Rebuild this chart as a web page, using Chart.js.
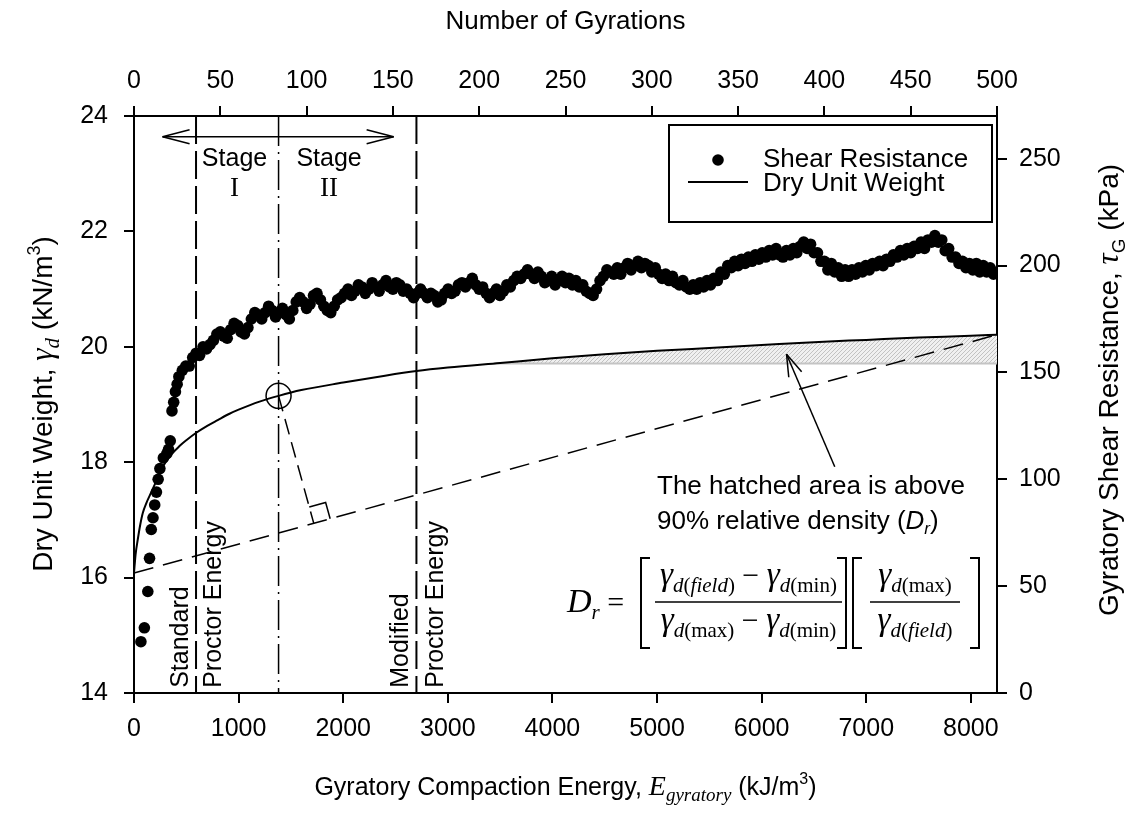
<!DOCTYPE html>
<html><head><meta charset="utf-8">
<script src="https://cdn.jsdelivr.net/npm/chart.js@4.4.0/dist/chart.umd.min.js"></script>
<style>html,body{margin:0;padding:0;background:#fff;}#wrap{width:1135px;height:816px;}</style>
</head><body><div id="wrap"><canvas id="c" width="1135" height="816"></canvas></div>
<script>
// ---------------- DATA ----------------
// Dry unit weight curve (bottom axis: compaction energy, kJ/m3; left axis: kN/m3)
const energyKJ = [0, 15, 36, 60, 84, 120, 150, 200, 275, 350, 435, 500, 595, 700, 800, 913, 1000, 1200, 1382, 1600, 2000, 2400, 2700, 3000, 3500, 4000, 4500, 5000, 5500, 6000, 6500, 7000, 7500, 8000, 8250];
const dryUnitWeight = [16.08, 16.4, 16.66, 16.92, 17.12, 17.3, 17.42, 17.62, 17.92, 18.12, 18.28, 18.38, 18.51, 18.63, 18.73, 18.84, 18.91, 19.05, 19.15, 19.25, 19.38, 19.5, 19.58, 19.64, 19.72, 19.8, 19.87, 19.93, 19.98, 20.03, 20.08, 20.12, 20.16, 20.19, 20.21];

// Shear resistance (top axis: number of gyrations; right axis: kPa)
const gyrations = [4, 6, 8, 9, 10, 11, 12, 13, 14, 15, 17, 19, 20, 21, 22, 23, 24, 25,
  26, 28, 30, 32, 34, 36, 38, 40, 42, 44, 46, 48, 50, 52, 54, 56, 58, 60, 62, 64,
  66, 68, 70, 72, 74, 76, 78, 80, 82, 84, 86, 88, 90, 92, 94, 96, 98, 100, 102, 104,
  106, 108, 110, 112, 114, 116, 118, 120, 122, 124, 126, 128, 130, 132, 134, 136, 138, 140, 142, 144,
  146, 148, 150, 152, 154, 156, 158, 160, 162, 164, 166, 168, 170, 172, 174, 176, 178, 180, 182, 184,
  186, 188, 190, 192, 194, 196, 198, 200, 202, 204, 206, 208, 210, 212, 214, 216, 218, 220, 222, 224,
  226, 228, 230, 232, 234, 236, 238, 240, 242, 244, 246, 248, 250, 252, 254, 256, 258, 260, 262, 264,
  266, 268, 270, 272, 274, 276, 278, 280, 282, 284, 286, 288, 290, 292, 294, 296, 298, 300, 302, 304,
  306, 308, 310, 312, 314, 316, 318, 320, 322, 324, 326, 328, 330, 332, 334, 336, 338, 340, 342, 344,
  346, 348, 350, 352, 354, 356, 358, 360, 362, 364, 366, 368, 370, 372, 374, 376, 378, 380, 382, 384,
  386, 388, 390, 392, 394, 396, 398, 400, 402, 404, 406, 408, 410, 412, 414, 416, 418, 420, 422, 424,
  426, 428, 430, 432, 434, 436, 438, 440, 442, 444, 446, 448, 450, 452, 454, 456, 458, 460, 462, 464,
  466, 468, 470, 472, 474, 476, 478, 480, 482, 484, 486, 488, 490, 492, 494, 496, 498, 500];
const shearKPa = [24, 30.5, 47.5, 63, 76.5, 82, 88, 94, 100, 105, 110, 112, 114, 118, 132, 136, 141, 144.5,
  148, 151, 153, 153, 157, 159, 158, 162, 161, 163, 165, 168, 169, 167, 166, 170, 173, 172, 169, 168,
  171, 175, 178, 177, 175, 178, 181, 179, 176, 178, 180, 177, 175, 179, 183, 185, 183, 180, 182, 186,
  187, 184, 181, 179, 178, 181, 184, 185, 187, 189, 186, 188, 191, 190, 187, 189, 192, 190, 188, 191,
  193, 190, 189, 192, 191, 188, 189, 187, 185, 187, 189, 187, 185, 187, 186, 183, 184, 187, 189, 187,
  188, 191, 192, 190, 192, 194, 191, 189, 190, 187, 185, 187, 189, 186, 188, 191, 190, 193, 195, 194,
  196, 198, 196, 194, 197, 195, 192, 193, 195, 191, 193, 195, 192, 194, 191, 193, 190, 191, 188, 187,
  186, 189, 193, 195, 198, 197, 196, 199, 196, 199, 201, 198, 200, 202, 199, 201, 200, 197, 199, 196,
  194, 196, 193, 195, 192, 191, 193, 190, 189, 191, 189, 192, 190, 193, 191, 194, 193, 197, 196, 200,
  199, 202, 200, 203, 201, 204, 202, 205, 203, 206, 204, 207, 205, 208, 205, 204, 207, 205, 208, 206,
  209, 211, 208, 210, 206, 206, 202, 202, 198, 201, 197, 199, 195, 198, 195, 198, 196, 199, 197, 200,
  198, 201, 200, 202, 200, 203, 202, 205, 204, 207, 205, 208, 206, 209, 208, 211, 208, 212, 211, 214,
  211, 212, 207, 208, 204, 204, 201, 202, 199, 201, 198, 201, 197, 200, 197, 199, 196, 197];

// 90% relative density limit (gray line) and its start
const limitEnergy = [3440, 8250];
const limitWeight = [19.71, 19.71];

// Axis ranges and tick labels
const energyRange = [0, 8250];
const energyTickValues = [0, 1000, 2000, 3000, 4000, 5000, 6000, 7000, 8000];
const gyrationRange = [0, 500];
const gyrationTickValues = [0, 50, 100, 150, 200, 250, 300, 350, 400, 450, 500];
const weightRange = [14, 24];
const weightTickValues = [14, 16, 18, 20, 22, 24];
const shearRange = [0, 270];
const shearTickValues = [0, 50, 100, 150, 200, 250];

// Annotation anchors (data units: energy, dry unit weight)
const ann = {
  standardE: 593, modifiedE: 2700, transitionE: 1382, circleW: 19.15,
  arrowFrom: [273, 23.64], arrowTo: [2482, 23.64],
  stage1: [961, 23.25, 22.74], stage2: [1865, 23.25, 22.74],
  standardText: [451, 14.09], proctor1Text: [770, 14.09], modifiedText: [2556, 14.09], proctor2Text: [2890, 14.09],
  noteText: [5000, 17.58, 17.0], noteArrowTail: [6699, 17.92], noteArrowTip: [6238, 19.87]
};

// ---------------- DRAWING ----------------
const SANS = '"Liberation Sans", Arial, sans-serif';
const SERIF = '"Liberation Serif", "Times New Roman", serif';
const canvas = document.getElementById('c');
const c2d = canvas.getContext('2d');

function makeHatch(){
  const p = document.createElement('canvas'); p.width = 4; p.height = 4;
  const g = p.getContext('2d');
  g.fillStyle = '#f0f0f0'; g.fillRect(0,0,4,4);
  g.fillStyle = '#c2c2c2';
  g.fillRect(0,3,1,1); g.fillRect(1,2,1,1); g.fillRect(2,1,1,1); g.fillRect(3,0,1,1);
  return c2d.createPattern(p, 'repeat');
}
const hatch = makeHatch();

function runsWidth(ctx, runs){ let w = 0; for (const r of runs){ ctx.font = r.f; w += ctx.measureText(r.t).width; } return w; }
function drawRuns(ctx, runs, x, y){ for (const r of runs){ ctx.font = r.f; ctx.fillText(r.t, x, y + (r.dy||0)); x += ctx.measureText(r.t).width; } return x; }
function seg(ctx, x1, y1, x2, y2){ ctx.beginPath(); ctx.moveTo(x1,y1); ctx.lineTo(x2,y2); ctx.stroke(); }
function openHead(ctx, tx, ty, fx, fy, len, half){
  const dx = fx - tx, dy = fy - ty, L = Math.hypot(dx, dy), ux = dx/L, uy = dy/L;
  const bx = tx + ux*len, by = ty + uy*len;
  seg(ctx, tx, ty, bx - uy*half, by + ux*half);
  seg(ctx, tx, ty, bx + uy*half, by - ux*half);
}

const overlay = {
  id: 'overlay',
  beforeDatasetsDraw(chart){
    const {ctx, chartArea: a, scales: {x, y}} = chart;
    ctx.save();
    const lx = x.getPixelForValue(limitEnergy[0]), ly = y.getPixelForValue(limitWeight[0]);
    const line = chart.getDatasetMeta(1).dataset;
    ctx.save();
    ctx.beginPath(); ctx.rect(lx, a.top, a.right - lx, ly - a.top); ctx.clip();
    ctx.beginPath(); line.path(ctx);
    ctx.lineTo(a.right, ly); ctx.lineTo(a.left, ly); ctx.closePath();
    ctx.fillStyle = hatch; ctx.fill();
    ctx.restore();
    ctx.strokeStyle = '#000';
    ctx.lineWidth = 2; ctx.setLineDash([28, 7]);
    for (const e of [ann.standardE, ann.modifiedE]){ const px = x.getPixelForValue(e); seg(ctx, px, a.top, px, a.bottom); }
    ctx.lineWidth = 1.5; ctx.setLineDash([30, 6, 2, 6]);
    const tx = x.getPixelForValue(ann.transitionE); seg(ctx, tx, a.top, tx, a.bottom);
    ctx.restore();
  },
  afterDatasetsDraw(chart){
    const {ctx, scales: {x, y}} = chart;
    ctx.save();
    ctx.strokeStyle = '#000'; ctx.lineWidth = 1.5;
    const n = energyKJ.length - 1;
    const ax = x.getPixelForValue(energyKJ[0]), ay = y.getPixelForValue(dryUnitWeight[0]);
    const bx = x.getPixelForValue(energyKJ[n]), by = y.getPixelForValue(dryUnitWeight[n]);
    ctx.setLineDash([20, 10]); seg(ctx, ax, ay, bx, by);
    const px = x.getPixelForValue(ann.transitionE), py = y.getPixelForValue(ann.circleW);
    const L = Math.hypot(bx-ax, by-ay), ux = (bx-ax)/L, uy = (by-ay)/L;
    const t = (px-ax)*ux + (py-ay)*uy, fx = ax + ux*t, fy = ay + uy*t;
    ctx.setLineDash([16, 8]); seg(ctx, px, py, fx, fy);
    ctx.setLineDash([]);
    const vL = Math.hypot(px-fx, py-fy), vx = (px-fx)/vL, vy = (py-fy)/vL, s = 17;
    ctx.beginPath(); ctx.moveTo(fx + vx*s, fy + vy*s); ctx.lineTo(fx + vx*s + ux*s, fy + vy*s + uy*s); ctx.lineTo(fx + ux*s, fy + uy*s); ctx.stroke();
    ctx.beginPath(); ctx.arc(px, py, 12.5, 0, Math.PI*2); ctx.stroke();
    ctx.restore();
  },
  afterDraw(chart){
    const {ctx, chartArea: a, scales: {x, y}} = chart;
    const X = v => x.getPixelForValue(v), Y = v => y.getPixelForValue(v);
    ctx.save();
    ctx.fillStyle = '#000'; ctx.strokeStyle = '#000';
    ctx.lineWidth = 1.5;
    const x1 = X(ann.arrowFrom[0]), x2 = X(ann.arrowTo[0]), ya = Y(ann.arrowFrom[1]);
    seg(ctx, x1, ya, x2, ya);
    openHead(ctx, x1, ya, x2, ya, 27, 7); openHead(ctx, x2, ya, x1, ya, 27, 7);
    ctx.textAlign = 'center'; ctx.textBaseline = 'middle';
    ctx.font = `25px ${SANS}`;
    ctx.fillText('Stage', X(ann.stage1[0]), Y(ann.stage1[1]));
    ctx.fillText('Stage', X(ann.stage2[0]), Y(ann.stage2[1]));
    ctx.font = `27px ${SERIF}`;
    ctx.fillText('I', X(ann.stage1[0]), Y(ann.stage1[2]));
    ctx.fillText('II', X(ann.stage2[0]), Y(ann.stage2[2]));
    ctx.font = `25px ${SANS}`; ctx.textAlign = 'left';
    for (const [txt, p] of [['Standard', ann.standardText], ['Proctor Energy', ann.proctor1Text], ['Modified', ann.modifiedText], ['Proctor Energy', ann.proctor2Text]]){
      ctx.save(); ctx.translate(X(p[0]), Y(p[1])); ctx.rotate(-Math.PI/2); ctx.fillText(txt, 0, 0); ctx.restore();
    }
    ctx.textAlign = 'left'; ctx.textBaseline = 'middle';
    ctx.font = `26px ${SANS}`;
    ctx.fillText('The hatched area is above', X(ann.noteText[0]), Y(ann.noteText[1]));
    ctx.textBaseline = 'alphabetic';
    const nb = Y(ann.noteText[2]) + 9;
    let cx = drawRuns(ctx, [{t:'90% relative density (', f:`26px ${SANS}`}, {t:'D', f:`italic 26px ${SANS}`}], X(ann.noteText[0]), nb);
    cx = drawRuns(ctx, [{t:'r', f:`italic 17px ${SANS}`, dy:5}], cx, nb);
    ctx.font = `26px ${SANS}`; ctx.fillText(')', cx, nb);
    ctx.lineWidth = 1.5;
    const ax1 = X(ann.noteArrowTail[0]), ay1 = Y(ann.noteArrowTail[1]), ax2 = X(ann.noteArrowTip[0]), ay2 = Y(ann.noteArrowTip[1]);
    seg(ctx, ax1, ay1, ax2, ay2); openHead(ctx, ax2, ay2, ax1, ay1, 22, 7);

    const G = `italic 33px ${SERIF}`, SI = `italic 21px ${SERIF}`, SU = `21px ${SERIF}`, OP = `30px ${SERIF}`;
    const gam = (sub) => [{t:'γ', f:G}, {t:'d', f:SI, dy:7}].concat(sub);
    const fieldSub = [{t:'(', f:SU, dy:7}, {t:'field', f:SI, dy:7}, {t:')', f:SU, dy:7}];
    const minSub = [{t:'(min)', f:SU, dy:7}];
    const maxSub = [{t:'(max)', f:SU, dy:7}];
    const minus = [{t:' − ', f:OP}];
    const numBase = 585, denBase = 630, fracY = 602;
    drawRuns(ctx, [{t:'D', f:`italic 34px ${SERIF}`}, {t:'r', f:`italic 21px ${SERIF}`, dy:7}, {t:' =', f:OP}], 567, 612);
    const frac = (l, r, num, den) => {
      ctx.lineWidth = 1.5; seg(ctx, l, fracY, r, fracY);
      drawRuns(ctx, num, (l+r)/2 - runsWidth(ctx, num)/2, numBase);
      drawRuns(ctx, den, (l+r)/2 - runsWidth(ctx, den)/2, denBase);
    };
    frac(655, 842, gam(fieldSub).concat(minus, gam(minSub)), gam(maxSub).concat(minus, gam(minSub)));
    frac(870, 960, gam(maxSub), gam(fieldSub));
    const bracket = (xx, dir) => { ctx.lineWidth = 2; ctx.beginPath(); ctx.moveTo(xx + dir*9, 558); ctx.lineTo(xx, 558); ctx.lineTo(xx, 648); ctx.lineTo(xx + dir*9, 648); ctx.stroke(); };
    bracket(641, 1); bracket(846, -1); bracket(853, 1); bracket(979, -1);

    ctx.lineWidth = 2; ctx.strokeRect(669, 125, 323, 97);
    ctx.beginPath(); ctx.arc(718, 160, 5.8, 0, Math.PI*2); ctx.fill();
    seg(ctx, 688, 182, 748, 182);
    ctx.font = `26px ${SANS}`; ctx.textAlign = 'left'; ctx.textBaseline = 'middle';
    ctx.fillText(chart.data.datasets[0].label, 763, 160);
    ctx.fillText(chart.data.datasets[1].label, 763, 184);

    ctx.textBaseline = 'alphabetic';
    ctx.font = `26px ${SANS}`; ctx.textAlign = 'center';
    ctx.fillText('Number of Gyrations', (a.left + a.right)/2, 29);
    ctx.textAlign = 'left';
    const bt = [{t:'Gyratory Compaction Energy, ', f:`25px ${SANS}`}, {t:'E', f:`italic 28px ${SERIF}`}, {t:'gyratory', f:`italic 19px ${SERIF}`, dy:6}, {t:' (kJ/m', f:`25px ${SANS}`}, {t:'3', f:`16px ${SANS}`, dy:-11}, {t:')', f:`25px ${SANS}`}];
    drawRuns(ctx, bt, (a.left + a.right)/2 - runsWidth(ctx, bt)/2, 795);
    const lt = [{t:'Dry Unit Weight, ', f:`28px ${SANS}`}, {t:'γ', f:`italic 31px ${SERIF}`}, {t:'d', f:`italic 21px ${SERIF}`, dy:7}, {t:' (kN/m', f:`28px ${SANS}`}, {t:'3', f:`18px ${SANS}`, dy:-12}, {t:')', f:`28px ${SANS}`}];
    ctx.save(); ctx.translate(42, 404); ctx.rotate(-Math.PI/2); drawRuns(ctx, lt, -runsWidth(ctx, lt)/2, 10); ctx.restore();
    const rt = [{t:'Gyratory Shear Resistance, ', f:`28px ${SANS}`}, {t:'τ', f:`italic 31px ${SERIF}`}, {t:'G', f:`19px ${SANS}`, dy:7}, {t:' (kPa)', f:`28px ${SANS}`}];
    ctx.save(); ctx.translate(1108, 390); ctx.rotate(-Math.PI/2); drawRuns(ctx, rt, -runsWidth(ctx, rt)/2, 10); ctx.restore();
    ctx.restore();
  }
};

function axis(pos, range, tickValues, fit, pad){
  return {
    type: 'linear', position: pos, min: range[0], max: range[1],
    grid: {drawOnChartArea: false, drawTicks: true, tickLength: 10, color: '#000', lineWidth: 2},
    border: {display: true, color: '#000', width: 2},
    ticks: {color: '#000', padding: pad, maxRotation: 0, autoSkip: false,
      font: {family: SANS, size: 25}, callback: v => String(v)},
    afterBuildTicks: s => { s.ticks = tickValues.map(v => ({value: v})); },
    afterFit: fit
  };
}

new Chart(canvas, {
  type: 'scatter',
  data: {
    datasets: [
      {label: 'Shear Resistance', data: gyrations.map((g, i) => ({x: g, y: shearKPa[i]})), xAxisID: 'x2', yAxisID: 'y2',
       pointRadius: 5.8, pointBackgroundColor: '#000', pointBorderWidth: 0, showLine: false, order: 0},
      {label: 'Dry Unit Weight', data: energyKJ.map((e, i) => ({x: e, y: dryUnitWeight[i]})), xAxisID: 'x', yAxisID: 'y',
       showLine: true, pointRadius: 0, borderColor: '#000', borderWidth: 2, cubicInterpolationMode: 'monotone',
       fill: false, order: 1},
      {label: '90% Dr limit', data: limitEnergy.map((e, i) => ({x: e, y: limitWeight[i]})), xAxisID: 'x', yAxisID: 'y',
       showLine: true, pointRadius: 0, borderColor: '#c4c4c4', borderWidth: 2, order: 2}
    ]
  },
  options: {
    responsive: false, devicePixelRatio: 1, animation: false,
    layout: {padding: 0},
    plugins: {legend: {display: false}, tooltip: {enabled: false}},
    scales: {
      x: axis('bottom', energyRange, energyTickValues, s => { s.height = 123; }, 11),
      x2: axis('top', gyrationRange, gyrationTickValues, s => { s.height = 116; }, 10),
      y: axis('left', weightRange, weightTickValues, s => { s.width = 134; }, 16),
      y2: axis('right', shearRange, shearTickValues, s => { s.width = 138; }, 12)
    }
  },
  plugins: [overlay]
});
</script>
</body></html>
